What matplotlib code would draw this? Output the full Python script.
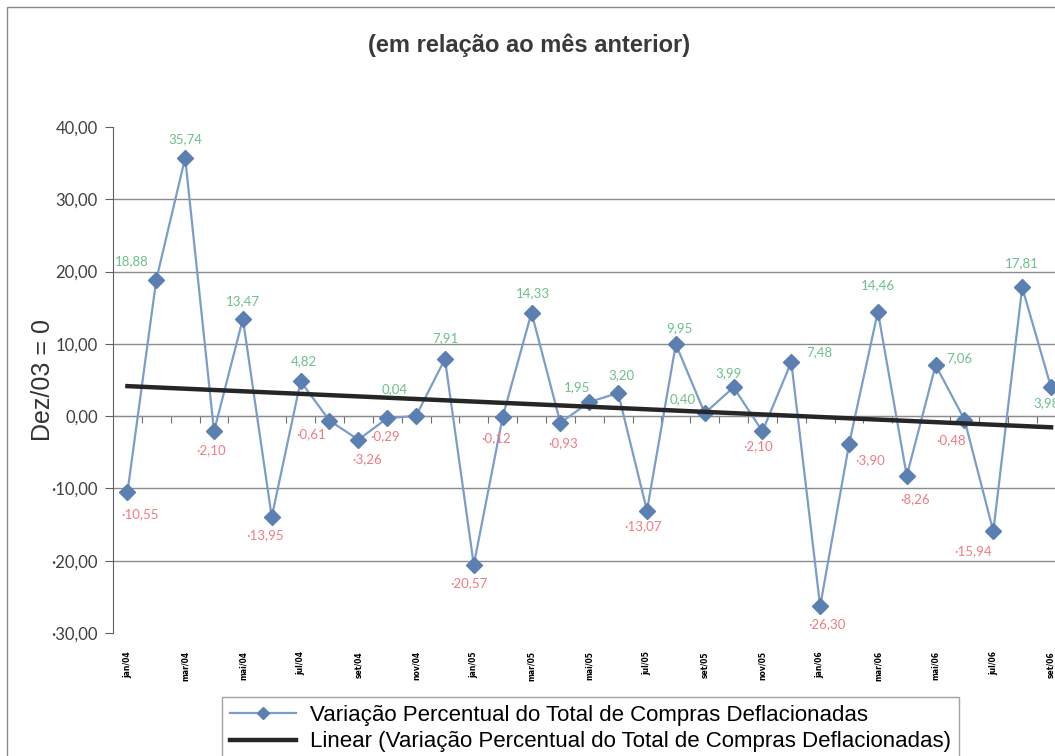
import numpy as np
import matplotlib
matplotlib.use('Agg')
from matplotlib import pyplot as plt
from matplotlib.patches import Rectangle
from matplotlib.lines import Line2D

plt.rcParams['font.family'] = ['DejaVu Sans']

# meses jan/04 .. set/06
months = ['jan/04', 'fev/04', 'mar/04', 'abr/04', 'mai/04', 'jun/04',
          'jul/04', 'ago/04', 'set/04', 'out/04', 'nov/04', 'dez/04',
          'jan/05', 'fev/05', 'mar/05', 'abr/05', 'mai/05', 'jun/05',
          'jul/05', 'ago/05', 'set/05', 'out/05', 'nov/05', 'dez/05',
          'jan/06', 'fev/06', 'mar/06', 'abr/06', 'mai/06', 'jun/06',
          'jul/06', 'ago/06', 'set/06']
variacao = [-10.55, 18.88, 35.74, -2.10, 13.47, -13.95, 4.82, -0.61, -3.26,
            -0.29, 0.04, 7.91, -20.57, -0.12, 14.33, -0.93, 1.95, 3.20,
            -13.07, 9.95, 0.40, 3.99, -2.10, 7.48, -26.30, -3.90, 14.46,
            -8.26, 7.06, -0.48, -15.94, 17.81, 3.98]
y_ticks = [-30, -20, -10, 0, 10, 20, 30, 40]

# deslocamento dos rotulos (pixels)
label_offsets = [(13, -22), (-25, 19), (0, 19), (-3, -19), (0, 18), (-7, -18),
                 (3, 20), (-18, -14), (9, -19), (-2, -18), (-21, 27), (0, 21),
                 (-5, -18), (-7, -21), (1, 19), (3, -20), (-12, 15), (3, 18),
                 (-4, -16), (4, 16), (-22, 14), (-5, 14), (-4, -15), (28, 10),
                 (7, -18), (21, -16), (0, 26), (8, -23), (24, 7), (-13, -21),
                 (-20, -20), (0, 24), (-5, -16)]

x = np.arange(len(variacao))
vals = np.array(variacao)
coef = np.polyfit(x, vals, 1)
tendencia = np.polyval(coef, x)

fig = plt.figure(figsize=(10.55, 7.56), dpi=100)
W, H = 1055, 756
ax = fig.add_axes([113 / W, (H - 633) / H, (1065.5 - 113) / W, (633 - 127) / H])

line_color = '#7b9dc9'
marker_color = '#5a7fb0'
ax.plot(x, vals, color=line_color, lw=1.6, marker='D', markersize=8.5,
        markerfacecolor=marker_color, markeredgecolor=marker_color, zorder=3)
ax.plot(x, tendencia, color='#262626', lw=3.2, zorder=4)

for i, v in enumerate(variacao):
    txt = f'{v:.2f}'.replace('.', ',').replace('-', '\u00b7')
    col = '#6cc08b' if v >= 0 else '#f27a84'
    ax.annotate(txt, (i, v), xytext=label_offsets[i], textcoords='offset pixels',
                ha='center', va='center', color=col, fontsize=9.5,
                family=['Lato', 'DejaVu Sans'], zorder=5, annotation_clip=False)

ax.set_xlim(-0.5, len(variacao) - 0.5)
ax.set_ylim(-30, 40)
ax.set_yticks(y_ticks)
ax.set_yticklabels([f'{t:.2f}'.replace('.', ',').replace('-', '\u00b7') for t in y_ticks],
                   fontsize=12, color='#404040', family=['Lato', 'DejaVu Sans'])
ax.yaxis.grid(True, color='#8c8c8c', lw=1)
gl = ax.get_ygridlines()
gl[0].set_visible(False)
gl[-1].set_visible(False)
ax.set_axisbelow(True)
ax.tick_params(axis='y', length=6, color='#606060', pad=5)

ax.set_xticks(x[::2])
ax.set_xticklabels(months[::2], rotation=90, fontsize=5.5, fontweight='bold')
ax.tick_params(axis='x', length=0, pad=13)

for s in ['top', 'right', 'bottom']:
    ax.spines[s].set_visible(False)
ax.spines['left'].set_color('#606060')

# marcas de escala sobre a linha do zero
sec = ax.secondary_xaxis(30 / 70)
sec.set_xticks(x + 0.5)
sec.set_xticklabels([])
sec.tick_params(length=5, color='#707070', direction='out')
sec.spines['bottom'].set_color('#8c8c8c')

fig.text(529 / W, 1 - 45 / H, '(em relação ao mês anterior)', ha='center', va='center',
         fontsize=17, fontweight='bold', color='#3a3a3a', family='Liberation Sans')
fig.text(43 / W, 1 - 380 / H, 'Dez/03 = 0', rotation=90, ha='center', va='center',
         fontsize=18, color='#333333', family='Liberation Sans')

handles = [Line2D([], [], color=line_color, lw=1.6, marker='D', markersize=6.5,
                  markerfacecolor=marker_color, markeredgecolor=marker_color),
           Line2D([], [], color='#262626', lw=3.2)]
leg = fig.legend(handles, ['Variação Percentual do Total de Compras Deflacionadas',
                           'Linear (Variação Percentual do Total de Compras Deflacionadas)'],
                 loc='upper left', bbox_to_anchor=(222 / W, 1 - 697 / H),
                 prop={'family': 'Liberation Sans', 'size': 16}, frameon=True,
                 fancybox=False, edgecolor='#8c8c8c', handlelength=3.0,
                 handletextpad=0.6, labelspacing=0.25, borderpad=0.35,
                 borderaxespad=0, handleheight=0.6)
leg.get_frame().set_linewidth(1)

fig.patches.append(Rectangle((7 / W, -0.1), 1.2, 1 - 7 / H + 0.1, transform=fig.transFigure,
                             fill=False, edgecolor='#8a8a8a', lw=1))

fig.savefig('out.png', dpi=100)
plt.close(fig)
